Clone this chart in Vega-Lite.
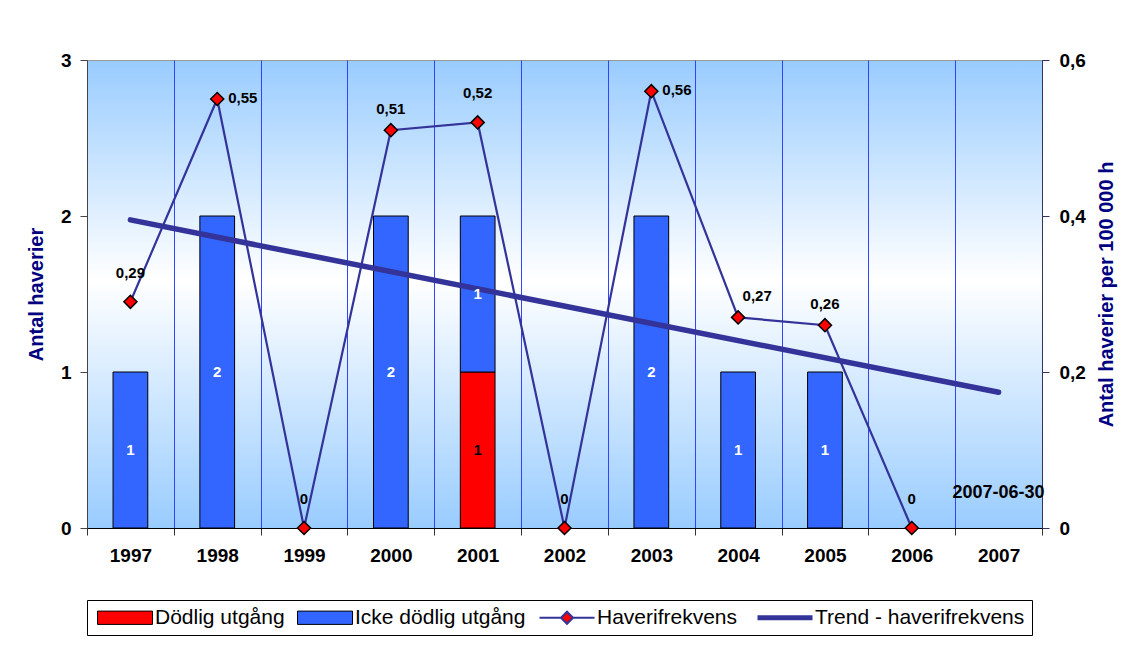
{
  "$schema": "https://vega.github.io/schema/vega-lite/v6.json",
  "width": 955,
  "height": 468,
  "autosize": {"type": "none"},
  "padding": {"left": 87, "top": 60, "right": 92, "bottom": 126},
  "background": "white",
  "datasets": {
    "bars": [
      {"year": "1997", "type": "Icke dödlig utgång", "n": 1},
      {"year": "1998", "type": "Icke dödlig utgång", "n": 2},
      {"year": "2000", "type": "Icke dödlig utgång", "n": 2},
      {"year": "2001", "type": "Dödlig utgång", "n": 1},
      {"year": "2001", "type": "Icke dödlig utgång", "n": 1},
      {"year": "2003", "type": "Icke dödlig utgång", "n": 2},
      {"year": "2004", "type": "Icke dödlig utgång", "n": 1},
      {"year": "2005", "type": "Icke dödlig utgång", "n": 1}
    ],
    "freq": [
      {"year": "1997", "v": 0.29},
      {"year": "1998", "v": 0.55},
      {"year": "1999", "v": 0},
      {"year": "2000", "v": 0.51},
      {"year": "2001", "v": 0.52},
      {"year": "2002", "v": 0},
      {"year": "2003", "v": 0.56},
      {"year": "2004", "v": 0.27},
      {"year": "2005", "v": 0.26},
      {"year": "2006", "v": 0}
    ],
    "trend": [
      {"year": "1997", "v": 0.395},
      {"year": "2007", "v": 0.174}
    ],
    "note": [
      {"year": "2007", "note": "2007-06-30"}
    ]
  },
  "layer": [
    {
      "layer": [
        {
          "data": {"name": "bars"},
          "mark": {"type": "bar", "stroke": "black", "strokeWidth": 1, "width": {"band": 0.4}},
          "encoding": {
            "x": {
              "field": "year", "type": "nominal", "title": null,
              "scale": {"domain": ["1997","1998","1999","2000","2001","2002","2003","2004","2005","2006","2007"], "paddingInner": 0, "paddingOuter": 0},
              "axis": {"labelAngle": 0, "tickBand": "extent", "grid": true, "gridColor": "#3344ff", "gridWidth": 1, "gridOpacity": 1, "domainColor": "black", "tickColor": "#333333", "tickSize": 7, "labelPadding": 11, "labelFontSize": 19, "labelFontWeight": "bold", "labelFont": "Liberation Sans", "labelColor": "black"}
            },
            "y": {
              "field": "n", "type": "quantitative", "stack": "zero",
              "scale": {"domain": [0, 3]},
              "axis": {"orient": "left", "values": [0, 1, 2, 3], "format": "d", "title": "Antal haverier", "grid": false, "domainColor": "#444444", "tickColor": "#444444", "tickSize": 7, "labelPadding": 9, "labelFontSize": 19, "labelFontWeight": "bold", "labelFont": "Liberation Sans", "labelColor": "black", "titleFont": "Liberation Sans", "titleFontSize": 20, "titleFontWeight": "bold", "titleColor": "#000080", "titlePadding": 14}
            },
            "color": {
              "field": "type", "type": "nominal",
              "scale": {"domain": ["Dödlig utgång", "Icke dödlig utgång", "Haverifrekvens", "Trend - haverifrekvens"], "range": ["#ff0000", "#3366ff", "#ff0000", "#333399"]},
              "legend": {
                "orient": "none", "legendX": 0, "legendY": 540, "direction": "horizontal", "columns": 4,
                "title": null, "strokeColor": "black", "fillColor": "white", "padding": 7,
                "labelFont": "Liberation Sans", "labelFontSize": 21, "labelColor": "black", "labelLimit": 400,
                "symbolSize": 196, "labelOffset": 40, "columnPadding": 9,
                "encoding": {
                  "symbols": {
                    "shape": {"value": {"expr": "datum.value === 'Haverifrekvens' ? 'M-1,0H2.07M2.93,-0.86L3.79,0L2.93,0.86L2.07,0ZM3.79,0H6.86' : datum.value === 'Trend - haverifrekvens' ? 'M-1,0H6.86' : 'M-1,-0.95H6.86V0.95H-1Z'"}},
                    "fill": {"value": {"expr": "datum.value === 'Icke dödlig utgång' ? '#3366ff' : datum.value === 'Trend - haverifrekvens' ? 'transparent' : '#ff0000'"}},
                    "stroke": {"value": {"expr": "datum.value === 'Dödlig utgång' || datum.value === 'Icke dödlig utgång' ? '#000000' : '#333399'"}},
                    "strokeWidth": {"value": {"expr": "datum.value === 'Trend - haverifrekvens' ? 5 : datum.value === 'Haverifrekvens' ? 2 : 1"}},
                    "opacity": {"value": 1},
                    "fillOpacity": {"value": 1},
                    "strokeOpacity": {"value": 1}
                  }
                }
              }
            },
            "order": {"field": "type", "sort": "ascending"}
          }
        },
        {
          "data": {"name": "note"},
          "mark": {"type": "text", "font": "Liberation Sans", "fontSize": 18, "fontWeight": "bold", "color": "black"},
          "encoding": {
            "x": {"field": "year", "type": "nominal"},
            "y": {"datum": 0.224, "type": "quantitative"},
            "text": {"field": "note", "type": "nominal"}
          }
        }
      ]
    },
    {
      "layer": [
        {
          "data": {"name": "trend"},
          "mark": {"type": "line", "strokeWidth": 5.5, "strokeCap": "round", "color": "#333399"},
          "encoding": {
            "x": {"field": "year", "type": "nominal"},
            "y": {
              "field": "v", "type": "quantitative",
              "scale": {"domain": [0, 0.6]},
              "axis": {"orient": "right", "values": [0, 0.2, 0.4, 0.6], "format": ".1~f", "title": "Antal haverier per 100 000 h", "grid": false, "domainColor": "#333366", "tickColor": "#333366", "tickSize": 7, "labelPadding": 10, "labelFontSize": 19, "labelFontWeight": "bold", "labelFont": "Liberation Sans", "labelColor": "black", "titleFont": "Liberation Sans", "titleFontSize": 20, "titleFontWeight": "bold", "titleColor": "#000080", "titleAngle": 270, "titleBaseline": "top", "titlePadding": 11}
            }
          }
        },
        {
          "data": {"name": "freq"},
          "mark": {"type": "line", "strokeWidth": 2.2, "color": "#333399"},
          "encoding": {
            "x": {"field": "year", "type": "nominal"},
            "y": {"field": "v", "type": "quantitative"}
          }
        },
        {
          "data": {"name": "freq"},
          "mark": {"type": "point", "shape": "diamond", "filled": true, "fill": "#ff0000", "stroke": "black", "strokeWidth": 1.5, "size": 170, "opacity": 1},
          "encoding": {
            "x": {"field": "year", "type": "nominal"},
            "y": {"field": "v", "type": "quantitative"}
          }
        },
        {
          "data": {"name": "freq"},
          "transform": [{"filter": {"field": "year", "oneOf": ["1997", "1999", "2001", "2002", "2006"]}}],
          "mark": {"type": "text", "dy": -29, "font": "Liberation Sans", "fontSize": 15, "fontWeight": "bold", "color": "black"},
          "encoding": {
            "x": {"field": "year", "type": "nominal"},
            "y": {"field": "v", "type": "quantitative"},
            "text": {"field": "v", "type": "quantitative", "format": ".2~f"}
          }
        },
        {
          "data": {"name": "freq"},
          "transform": [{"filter": {"field": "year", "oneOf": ["2000", "2005"]}}],
          "mark": {"type": "text", "dy": -21, "font": "Liberation Sans", "fontSize": 15, "fontWeight": "bold", "color": "black"},
          "encoding": {
            "x": {"field": "year", "type": "nominal"},
            "y": {"field": "v", "type": "quantitative"},
            "text": {"field": "v", "type": "quantitative", "format": ".2~f"}
          }
        },
        {
          "data": {"name": "freq"},
          "transform": [{"filter": {"field": "year", "oneOf": ["1998", "2003"]}}],
          "mark": {"type": "text", "align": "left", "dx": 11, "dy": -1, "font": "Liberation Sans", "fontSize": 15, "fontWeight": "bold", "color": "black"},
          "encoding": {
            "x": {"field": "year", "type": "nominal"},
            "y": {"field": "v", "type": "quantitative"},
            "text": {"field": "v", "type": "quantitative", "format": ".2~f"}
          }
        },
        {
          "data": {"name": "freq"},
          "transform": [{"filter": {"field": "year", "oneOf": ["2004"]}}],
          "mark": {"type": "text", "dx": 19, "dy": -21, "font": "Liberation Sans", "fontSize": 15, "fontWeight": "bold", "color": "black"},
          "encoding": {
            "x": {"field": "year", "type": "nominal"},
            "y": {"field": "v", "type": "quantitative"},
            "text": {"field": "v", "type": "quantitative", "format": ".2~f"}
          }
        }
      ]
    },
    {
      "data": {"name": "bars"},
      "mark": {"type": "text", "font": "Liberation Sans", "fontSize": 15, "fontWeight": "bold"},
      "encoding": {
        "x": {"field": "year", "type": "nominal"},
        "y": {"field": "n", "type": "quantitative", "stack": "zero", "bandPosition": 0.5, "scale": {"domain": [0, 3]}, "axis": null},
        "detail": {"field": "type", "type": "nominal"},
        "order": {"field": "type", "sort": "ascending"},
        "text": {"field": "n", "type": "quantitative"},
        "color": {"condition": {"test": "datum.type === 'Dödlig utgång'", "value": "black"}, "value": "white"}
      }
    }
  ],
  "resolve": {"scale": {"y": "independent"}, "axis": {"y": "independent"}},
  "config": {
    "font": "Liberation Sans",
    "view": {
      "stroke": "#999999",
      "strokeWidth": 1,
      "fill": {"gradient": "linear", "x1": 0, "y1": 0, "x2": 0, "y2": 1, "stops": [{"offset": 0, "color": "#99ccff"}, {"offset": 0.47, "color": "#ffffff"}, {"offset": 1, "color": "#99ccff"}]}
    },
    "locale": {"number": {"decimal": ",", "thousands": " ", "grouping": [3], "currency": ["", " kr"]}}
  }
}
